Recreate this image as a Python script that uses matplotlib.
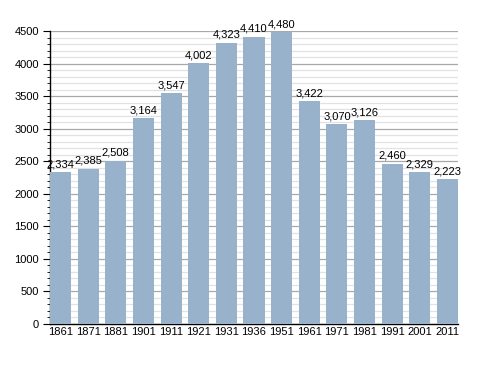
import numpy as np
import matplotlib.pyplot as plt
from matplotlib.ticker import MultipleLocator

plt.rcParams['font.family'] = ['Liberation Sans', 'DejaVu Sans']

years = ["1861", "1871", "1881", "1901", "1911", "1921", "1931", "1936",
         "1951", "1961", "1971", "1981", "1991", "2001", "2011"]
population = [2334, 2385, 2508, 3164, 3547, 4002, 4323, 4410,
              4480, 3422, 3070, 3126, 2460, 2329, 2223]

fig = plt.figure(figsize=(4.88, 3.73), dpi=100)
ax = fig.add_axes([50 / 488, 49 / 373, 408 / 488, 293 / 373])

x = np.arange(len(years))
w = 0.76
ax.bar(x, population, width=w, color="#98b2cc", zorder=3)
for xi, v in zip(x, population):
    ax.text(xi, v + 45, f"{v:,}", ha="center", va="bottom", fontsize=8, zorder=4)

ax.set_xlim(-w / 2, len(years) - 1 + w / 2)
ax.set_ylim(0, 4500)
ax.set_xticks(x)
ax.set_xticklabels(years)
ax.yaxis.set_major_locator(MultipleLocator(500))
ax.yaxis.set_minor_locator(MultipleLocator(100))
ax.grid(axis="y", which="major", color="#a8a8a8", linewidth=0.9, zorder=1)
ax.grid(axis="y", which="minor", color="#e2e2e2", linewidth=0.9, zorder=0)
ax.tick_params(axis="x", length=0, labelsize=8, pad=2.5)
ax.tick_params(axis="y", which="major", length=5, labelsize=8, pad=3)
ax.tick_params(axis="y", which="minor", length=2.5)
for s in ["top", "right"]:
    ax.spines[s].set_visible(False)
ax.spines["left"].set_linewidth(1.0)
ax.spines["bottom"].set_linewidth(1.0)

fig.savefig("out.png", dpi=100)
